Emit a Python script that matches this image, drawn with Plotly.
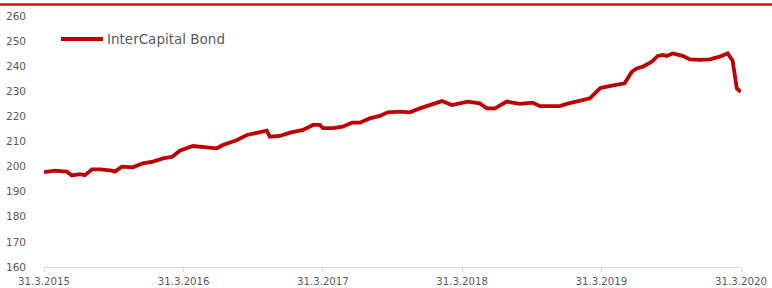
import plotly.graph_objects as go

dates = [
    "2015-03-31", "2015-04-29", "2015-05-30", "2015-06-12", "2015-07-03", "2015-07-16",
    "2015-08-04", "2015-08-25", "2015-09-25", "2015-10-03", "2015-10-21", "2015-11-19",
    "2015-12-15", "2016-01-11", "2016-02-06", "2016-03-01", "2016-03-21", "2016-04-24",
    "2016-05-31", "2016-06-26", "2016-07-12", "2016-08-18", "2016-09-13", "2016-10-09",
    "2016-11-04", "2016-11-12", "2016-12-08", "2017-01-04", "2017-02-07", "2017-03-05",
    "2017-03-23", "2017-03-31", "2017-04-26", "2017-05-22", "2017-06-15", "2017-07-06",
    "2017-08-01", "2017-08-27", "2017-09-17", "2017-10-19", "2017-11-14", "2017-12-10",
    "2018-01-05", "2018-02-06", "2018-03-04", "2018-03-30", "2018-04-15", "2018-05-16",
    "2018-06-04", "2018-06-25", "2018-07-26", "2018-08-29", "2018-10-02", "2018-10-21",
    "2018-12-12", "2018-12-30", "2019-02-02", "2019-03-01", "2019-03-27", "2019-04-04",
    "2019-05-05", "2019-05-31", "2019-06-19", "2019-07-02", "2019-07-18", "2019-08-10",
    "2019-08-26", "2019-09-08", "2019-09-18", "2019-10-04", "2019-10-30", "2019-11-18",
    "2019-12-14", "2020-01-09", "2020-02-04", "2020-02-25", "2020-03-09", "2020-03-20",
    "2020-03-30",
]
values = [
    197.8, 198.4, 198.0, 196.5, 197.0, 196.6,
    198.9, 198.9, 198.4, 198.0, 200.0, 199.7,
    201.3, 202.0, 203.3, 203.9, 206.3, 208.2,
    207.7, 207.3, 208.6, 210.6, 212.6, 213.5,
    214.3, 211.9, 212.2, 213.5, 214.6, 216.6,
    216.6, 215.3, 215.3, 215.9, 217.5, 217.5,
    219.2, 220.2, 221.6, 221.9, 221.6, 223.2,
    224.5, 226.1, 224.5, 225.2, 225.9, 225.2,
    223.2, 223.2, 225.9, 225.0, 225.5, 224.1,
    224.1, 225.0, 226.3, 227.2, 231.2, 231.6,
    232.5, 233.2, 237.8, 239.1, 239.8, 241.8,
    244.1, 244.5, 244.1, 245.1, 244.1, 242.7,
    242.5, 242.7, 243.8, 245.1, 242.2, 231.2,
    229.8,
]
tick_dates = ["2015-03-31", "2016-03-31", "2017-03-31", "2018-03-31", "2019-03-31", "2020-03-31"]
tick_labels = ["31.3.2015", "31.3.2016", "31.3.2017", "31.3.2018", "31.3.2019", "31.3.2020"]
series_name = "InterCapital Bond"

LINE_COLOR = "#c00000"
TEXT_COLOR = "#595959"
FONT = "DejaVu Sans"

fig = go.Figure()
fig.add_trace(go.Scatter(
    x=dates, y=values, mode="lines", name=series_name,
    line=dict(color=LINE_COLOR, width=3.8),
    showlegend=False,
))

fig.update_layout(
    width=772, height=288,
    margin=dict(l=44, r=31, t=16, b=21, autoexpand=False),
    paper_bgcolor="white", plot_bgcolor="white",
    font=dict(family=FONT, color=TEXT_COLOR, size=10.5),
    showlegend=False,
    xaxis=dict(
        type="date", range=["2015-03-31", "2020-03-31"],
        tickvals=tick_dates, ticktext=tick_labels,
        showgrid=False, zeroline=False, automargin=False,
        showline=True, linecolor="#d9d9d9", linewidth=1,
        ticks="outside", ticklen=4, tickcolor="#d9d9d9",
        ticklabelstandoff=1,
        tickfont=dict(family=FONT, size=10.2, color=TEXT_COLOR),
    ),
    yaxis=dict(
        range=[160, 260], dtick=10, tick0=160,
        showgrid=False, zeroline=False, showline=False, automargin=False,
        ticks="", ticklabelstandoff=17,
        tickfont=dict(family=FONT, size=10.5, color=TEXT_COLOR),
    ),
    shapes=[
        dict(
            type="line", xref="paper", yref="paper",
            x0=-0.07, x1=1.06, y0=1.0458, y1=1.0458,
            line=dict(color="#e30613", width=2.5),
        ),
        # legend sample line
        dict(
            type="line", xref="paper", yref="paper",
            x0=(61 - 44) / 697, x1=(103 - 44) / 697,
            y0=(267 - 39) / 251, y1=(267 - 39) / 251,
            line=dict(color=LINE_COLOR, width=3.8),
        ),
    ],
    annotations=[dict(
        text=series_name, xref="paper", yref="paper",
        x=(105 - 44) / 697, y=(267 - 39) / 251,
        xanchor="left", yanchor="middle", showarrow=False,
        font=dict(family=FONT, size=13.5, color=TEXT_COLOR),
    )],
)

fig.write_html(
    "out.html",
    config={"displayModeBar": False},
    post_script="document.body.style.margin='0';document.body.style.overflow='hidden';",
)
